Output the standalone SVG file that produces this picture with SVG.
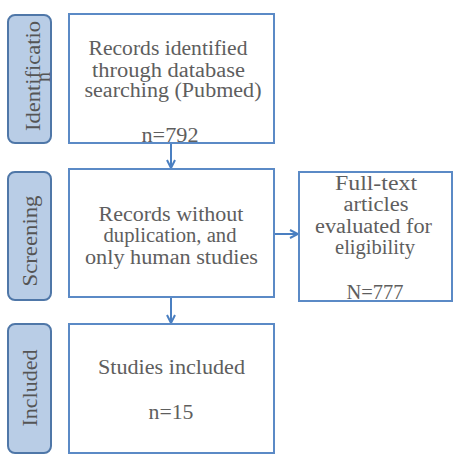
<svg xmlns="http://www.w3.org/2000/svg" width="458" height="464" viewBox="0 0 458 464">
<defs>
<style>
.box{fill:#fff;stroke:#5b8ac6;stroke-width:2}
.side{fill:#b9cde6;stroke:#4f77a8;stroke-width:2}
text{font-family:'Liberation Serif','DejaVu Serif',serif;font-size:20px;text-anchor:middle}
.t{fill:#5e5e5e}
.s{fill:#555}
.c{fill:none;stroke:#4a7fc1;stroke-width:2}
</style>
<marker id="ah" viewBox="0 0 10 10" refX="9" refY="5" markerWidth="10" markerHeight="10" markerUnits="userSpaceOnUse" orient="auto">
<path d="M1,1 L9,5 L1,9" fill="none" stroke="#4a7fc1" stroke-width="2"/>
</marker>
</defs>
<rect width="458" height="464" fill="#fff"/>
<g id="side-identification">
<rect class="side" x="8" y="15" width="43" height="128" rx="7"/>
<text class="s" transform="translate(40,76) rotate(-90)" textLength="110" lengthAdjust="spacingAndGlyphs">Identificatio</text>
<text class="s" transform="translate(50,77) rotate(-90)">n</text>
</g>
<g id="side-screening">
<rect class="side" x="8" y="172" width="43" height="128" rx="7"/>
<text class="s" transform="translate(37,241) rotate(-90)" textLength="91" lengthAdjust="spacingAndGlyphs">Screening</text>
</g>
<g id="side-included">
<rect class="side" x="8" y="324" width="43" height="129" rx="7"/>
<text class="s" transform="translate(37,388) rotate(-90)" textLength="77" lengthAdjust="spacingAndGlyphs">Included</text>
</g>
<g id="connectors">
<line class="c" x1="171" y1="143" x2="171" y2="168" marker-end="url(#ah)"/>
<line class="c" x1="274" y1="234" x2="298" y2="234" marker-end="url(#ah)"/>
<line class="c" x1="171" y1="297" x2="171" y2="323" marker-end="url(#ah)"/>
</g>
<g id="box-identified">
<rect class="box" x="69" y="14" width="205" height="129"/>
<text class="t" x="168" y="54.5" textLength="159" lengthAdjust="spacingAndGlyphs">Records identified</text>
<text class="t" x="168.5" y="76.5" textLength="153" lengthAdjust="spacingAndGlyphs">through database</text>
<text class="t" x="173" y="97" textLength="177" lengthAdjust="spacingAndGlyphs">searching (Pubmed)</text>
<text class="t" x="170" y="141.5" textLength="57" lengthAdjust="spacingAndGlyphs">n=792</text>
</g>
<g id="box-screened">
<rect class="box" x="69" y="169" width="205" height="128"/>
<text class="t" x="171" y="220.5" textLength="145" lengthAdjust="spacingAndGlyphs">Records without</text>
<text class="t" x="170" y="242" textLength="133" lengthAdjust="spacingAndGlyphs">duplication, and</text>
<text class="t" x="171.5" y="263.5" textLength="173" lengthAdjust="spacingAndGlyphs">only human studies</text>
</g>
<g id="box-fulltext">
<rect class="box" x="299" y="172" width="153" height="129"/>
<text class="t" x="376" y="189.5" textLength="82" lengthAdjust="spacingAndGlyphs">Full-text</text>
<text class="t" x="376" y="210.5" textLength="65" lengthAdjust="spacingAndGlyphs">articles</text>
<text class="t" x="373.5" y="233" textLength="117" lengthAdjust="spacingAndGlyphs">evaluated for</text>
<text class="t" x="375" y="254" textLength="80" lengthAdjust="spacingAndGlyphs">eligibility</text>
<text class="t" x="375" y="299" textLength="57" lengthAdjust="spacingAndGlyphs">N=777</text>
</g>
<g id="box-included">
<rect class="box" x="69" y="324" width="205" height="129"/>
<text class="t" x="171.5" y="374" textLength="147" lengthAdjust="spacingAndGlyphs">Studies included</text>
<text class="t" x="171" y="418.5" textLength="45" lengthAdjust="spacingAndGlyphs">n=15</text>
</g>
</svg>
